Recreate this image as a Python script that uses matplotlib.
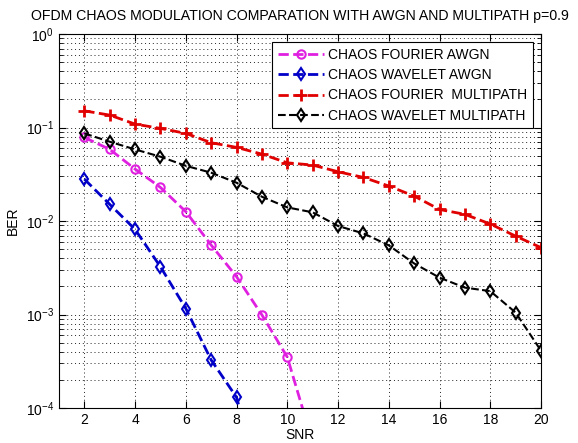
import numpy as np
import matplotlib
matplotlib.use("Agg")
import matplotlib.pyplot as plt
from matplotlib.ticker import LogLocator, NullFormatter, FixedLocator

plt.rcParams['font.family'] = ['Liberation Sans', 'DejaVu Sans']

# SNR values
snr = np.arange(2, 21)

# BER (AWGN curves drop below the axis, one extra point keeps the line going)
snr_fourier_awgn = [2, 3, 4, 5, 6, 7, 8, 9, 10, 11]
ber_fourier_awgn = [0.0785, 0.0585, 0.036, 0.0229, 0.0126, 0.00553, 0.00254, 0.00099, 0.00035, 0.000043]

snr_wavelet_awgn = [2, 3, 4, 5, 6, 7, 8, 9]
ber_wavelet_awgn = [0.0281, 0.0151, 0.00815, 0.00324, 0.00116, 0.000326, 0.00013, 0.0000135]

ber_fourier_mp = [0.151, 0.136, 0.109, 0.098, 0.0867, 0.0689, 0.0614, 0.052, 0.042, 0.0397,
                  0.0337, 0.0293, 0.0237, 0.0185, 0.0133, 0.0118, 0.0093, 0.0069, 0.0052]
ber_wavelet_mp = [0.0867, 0.0706, 0.0584, 0.0488, 0.039, 0.0329, 0.0257, 0.0182, 0.014, 0.0124,
                  0.00885, 0.00738, 0.0055, 0.00352, 0.00248, 0.00194, 0.00178, 0.00105, 0.00041]

labels = ['CHAOS FOURIER AWGN', 'CHAOS WAVELET AWGN',
          'CHAOS FOURIER  MULTIPATH', 'CHAOS WAVELET MULTIPATH']

fig = plt.figure(figsize=(5.78, 4.43), dpi=100)
ax = fig.add_axes([0.102, 0.079, 0.834, 0.844])

ax.semilogy(snr_fourier_awgn, ber_fourier_awgn, '--o', color='#e020e0', lw=2,
            mfc='none', mec='#e020e0', ms=6, mew=1.5, label=labels[0])
ax.semilogy(snr_wavelet_awgn, ber_wavelet_awgn, '--d', color='#0000c8', lw=2,
            mfc='none', ms=6, mew=1.5, label=labels[1])
ax.semilogy(snr, ber_fourier_mp, '--+', color='#e00000', lw=2,
            ms=9, mew=2, label=labels[2])
ax.semilogy(snr, ber_wavelet_mp, '--d', color='black', lw=1.5,
            mfc='none', ms=6, mew=1.5, label=labels[3])

ax.set_xlim(1, 20)
ax.set_ylim(1e-4, 1)
ax.xaxis.set_major_locator(FixedLocator(range(2, 21, 2)))
ax.yaxis.set_major_locator(LogLocator(base=10, numticks=10))
ax.yaxis.set_minor_locator(LogLocator(base=10, subs=np.arange(2, 10), numticks=20))
ax.yaxis.set_minor_formatter(NullFormatter())

dots = (0, (1, 3))
ax.grid(True, which='major', axis='both', linestyle=dots, color='#222222', lw=0.7)
ax.grid(True, which='minor', axis='y', linestyle=dots, color='#222222', lw=0.7)
ax.tick_params(which='both', direction='in', top=True, right=True, labelsize=10)
ax.tick_params(which='major', length=5)
ax.tick_params(which='minor', length=3)

ax.set_xlabel('SNR', fontsize=10, labelpad=1)
ax.set_ylabel('BER', fontsize=10, labelpad=4)
ax.set_title('OFDM CHAOS MODULATION COMPARATION WITH AWGN AND MULTIPATH p=0.9',
             fontsize=10.2, pad=10)

leg = ax.legend(loc='upper right', fontsize=10, fancybox=False, framealpha=1,
                edgecolor='black', handlelength=3.3, borderaxespad=0.6,
                labelspacing=0.45, handletextpad=0.3)
leg.get_frame().set_linewidth(0.8)

fig.savefig('out.png', dpi=100)
